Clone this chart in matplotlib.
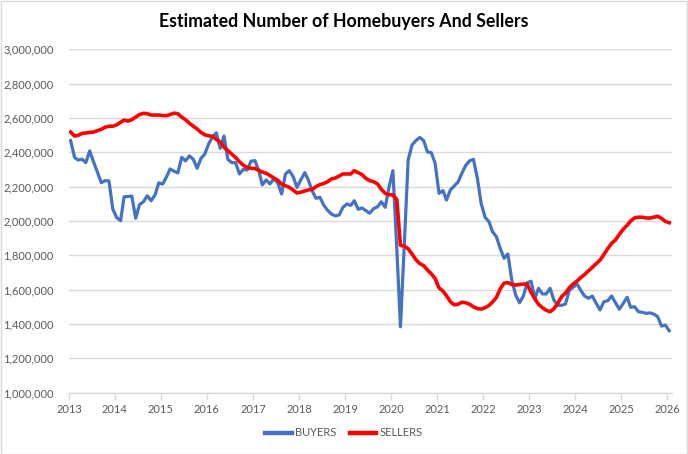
import matplotlib
matplotlib.use("Agg")
import matplotlib.pyplot as plt
import matplotlib.dates as mdates
import matplotlib.ticker as mticker
from matplotlib.patches import Rectangle
import pandas as pd
import numpy as np

# ---- data (monthly, Jan 2013 .. Jan 2026), values in thousands ----
start_month = "2013-01"
buyers = [
    2468, 2370, 2355, 2360, 2340, 2408, 2345, 2285, 2223, 2235, 2233, 2070,
    2020, 2002, 2141, 2143, 2145, 2016, 2095, 2112, 2147, 2118, 2151, 2222,
    2215, 2258, 2303, 2290, 2280, 2371, 2350, 2379, 2359, 2307, 2365, 2390,
    2450, 2491, 2514, 2423, 2495, 2359, 2340, 2340, 2274, 2301, 2297, 2348,
    2352, 2294, 2210, 2239, 2216, 2246, 2223, 2157, 2274, 2293, 2258, 2196,
    2240, 2282, 2239, 2175, 2132, 2138, 2093, 2062, 2040, 2030, 2035, 2080,
    2099, 2091, 2118, 2068, 2076, 2060, 2045, 2072, 2083, 2112, 2080, 2196,
    2293, 1840, 1384, 1870, 2355, 2443, 2468, 2487, 2468, 2402, 2398, 2336,
    2161, 2177, 2122, 2181, 2204, 2227, 2278, 2324, 2351, 2359, 2250, 2103,
    2022, 1996, 1938, 1909, 1841, 1783, 1808, 1656, 1569, 1524, 1563, 1640,
    1649, 1549, 1608, 1575, 1575, 1608, 1540, 1509, 1509, 1517, 1598, 1614,
    1633, 1594, 1563, 1550, 1563, 1520, 1482, 1530, 1536, 1563, 1524, 1486,
    1520, 1556, 1497, 1501, 1472, 1468, 1462, 1465, 1458, 1443, 1388, 1394,
    1361,
]
sellers = [
    2518, 2495, 2499, 2510, 2513, 2516, 2518, 2526, 2534, 2546, 2552, 2552,
    2560, 2575, 2588, 2582, 2590, 2605, 2620, 2627, 2625, 2617, 2617, 2617,
    2614, 2614, 2620, 2628, 2625, 2605, 2590, 2569, 2552, 2536, 2516, 2502,
    2496, 2493, 2475, 2460, 2430, 2410, 2390, 2370, 2345, 2325, 2312, 2307,
    2306, 2295, 2285, 2278, 2265, 2250, 2238, 2215, 2205, 2196, 2180, 2163,
    2168, 2175, 2181, 2184, 2200, 2212, 2218, 2229, 2245, 2250, 2262, 2274,
    2274, 2274, 2293, 2281, 2270, 2248, 2235, 2229, 2216, 2185, 2161, 2153,
    2152, 2125, 1858, 1854, 1838, 1808, 1775, 1752, 1740, 1715, 1692, 1665,
    1610, 1592, 1565, 1530, 1512, 1515, 1527, 1524, 1515, 1500, 1490, 1487,
    1495, 1508, 1528, 1555, 1605, 1638, 1641, 1630, 1627, 1630, 1633, 1632,
    1585, 1545, 1515, 1495, 1480, 1472, 1489, 1520, 1560, 1580, 1612, 1633,
    1650, 1672, 1688, 1710, 1730, 1752, 1772, 1805, 1840, 1870, 1890, 1922,
    1952, 1975, 2000, 2018, 2022, 2022, 2018, 2017, 2022, 2028, 2015, 1998,
    1990,
]
series_names = ["BUYERS", "SELLERS"]
title = "Estimated Number of Homebuyers And Sellers"
y_ticks = [1_000_000, 1_200_000, 1_400_000, 1_600_000, 1_800_000, 2_000_000,
           2_200_000, 2_400_000, 2_600_000, 2_800_000, 3_000_000]

# ---- build ----
dates = pd.date_range(start_month, periods=len(buyers), freq="MS") + pd.Timedelta(days=14)
b = np.array(buyers) * 1000
s = np.array(sellers) * 1000

FONT = ["Lato", "DejaVu Sans"]
plt.rcParams["font.family"] = FONT
TXT = "#595959"
GRID = "#D9D9D9"

fig = plt.figure(figsize=(6.88, 4.54), dpi=100)
ax = fig.add_axes([68.9 / 688, 1 - 392.7 / 454, (672 - 68.9) / 688, (392.7 - 49.3) / 454])

ax.plot(dates, b, color="#4472C4", lw=2.3, label=series_names[0], solid_joinstyle="round")
ax.plot(dates, s, color="#FF0000", lw=2.6, label=series_names[1], solid_joinstyle="round")

ax.set_ylim(y_ticks[0], y_ticks[-1])
ax.set_yticks(y_ticks)
ax.yaxis.set_major_formatter(mticker.FuncFormatter(lambda v, p: f"{int(v):,}"))
ax.set_xlim(pd.Timestamp("2013-01-01"), pd.Timestamp("2026-02-06"))
ax.xaxis.set_major_locator(mdates.YearLocator())
ax.xaxis.set_major_formatter(mdates.DateFormatter("%Y"))

ax.grid(axis="y", color=GRID, lw=1)
ax.set_axisbelow(True)
for sp in ["top", "right", "left"]:
    ax.spines[sp].set_visible(False)
ax.spines["bottom"].set_color(GRID)
ax.spines["bottom"].set_linewidth(1)
ax.tick_params(axis="y", length=0, pad=11, labelsize=8.0, labelcolor=TXT)
ax.tick_params(axis="x", length=5, width=1, color=GRID, pad=3, labelsize=8.0, labelcolor=TXT)

fig.text(0.5, 1 - 22 / 454, title, ha="center", va="center", fontsize=12.8,
         fontweight="bold", color="black")

leg = fig.legend(loc="center", bbox_to_anchor=(0.5, 1 - 433 / 454), ncol=2, frameon=False,
                 fontsize=8.0, handlelength=2.4, columnspacing=1.2, handletextpad=0.3)
for t in leg.get_texts():
    t.set_color(TXT)
for h in leg.get_lines():
    h.set_linewidth(3.2)

fig.patches.append(Rectangle((0.001, 0.001), 0.997, 0.997, transform=fig.transFigure,
                             fill=False, edgecolor=GRID, lw=1))

fig.savefig("out.png", dpi=100, facecolor="white")
